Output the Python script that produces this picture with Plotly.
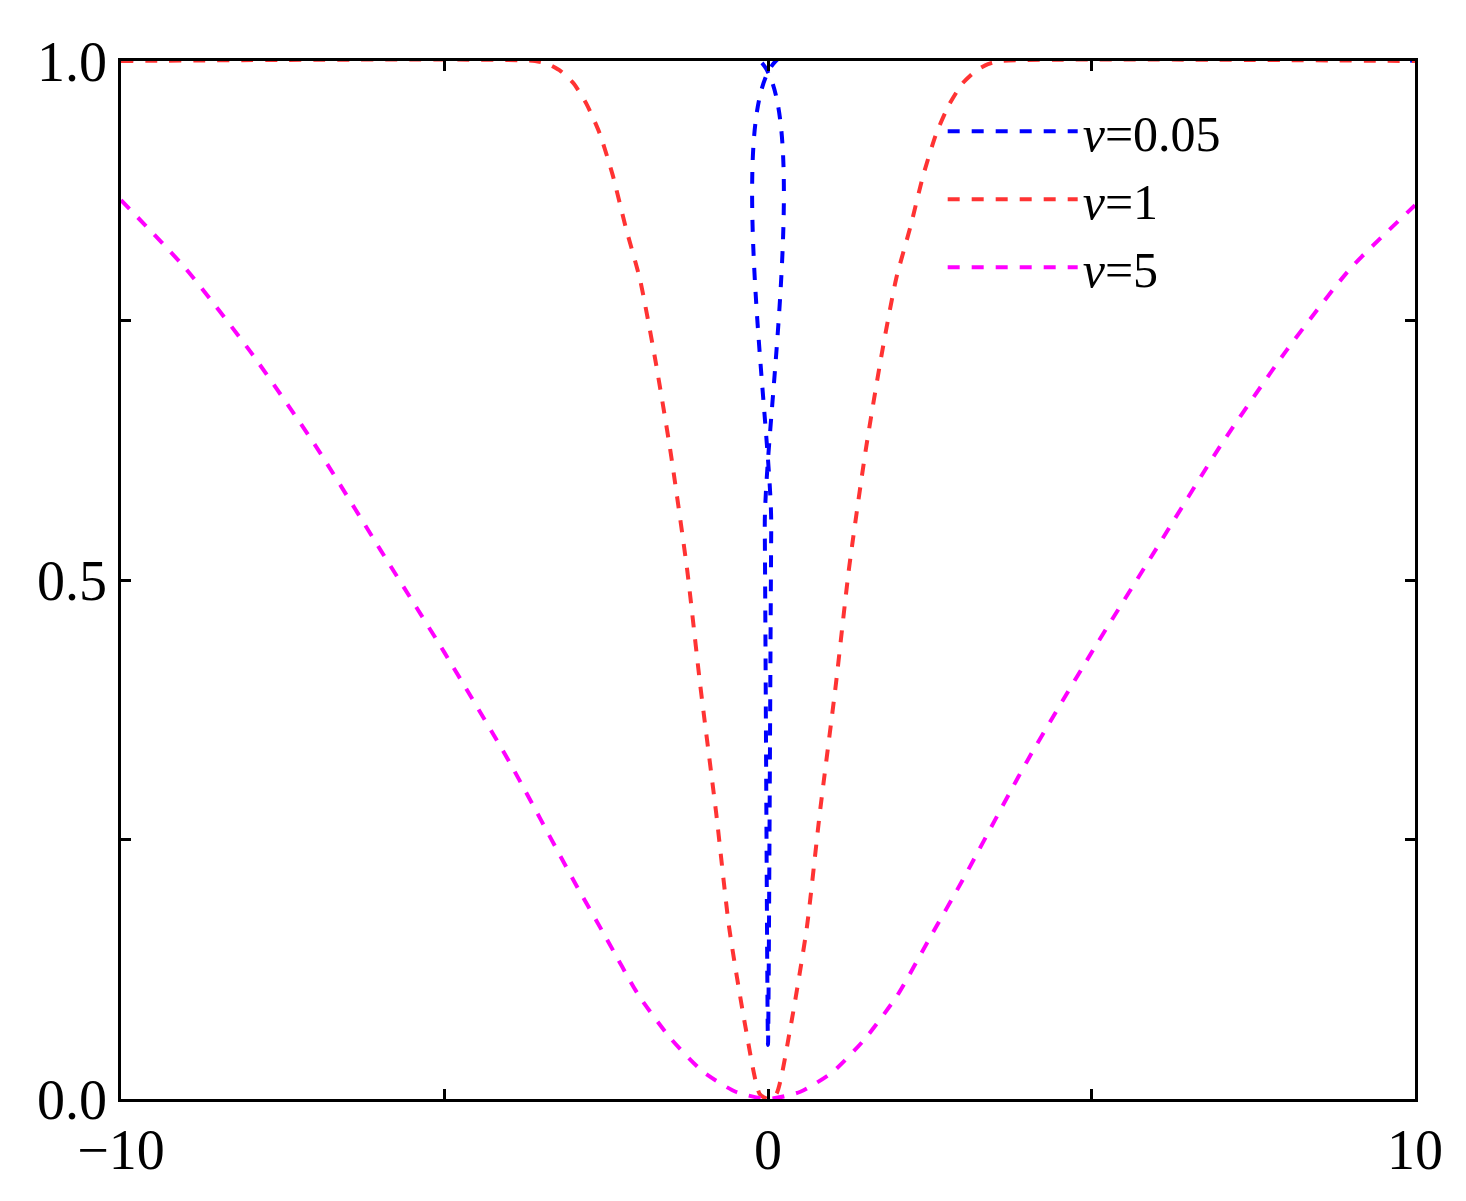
import plotly.graph_objects as go

x_v005 = [-10, -0.12, -0.05, 0.0, 0.05, 0.12, 10]
y_v005 = [1.0, 1.0, 0.55, 0.052, 0.55, 1.0, 1.0]

x_v1 = [-10, -3.6, -3.4, -3.2, -3.0, -2.8, -2.6, -2.4, -2.2, -1.98, -1.75, -1.51, -1.25, -1.05, -0.8, -0.6, -0.35, -0.13, 0.0,
        0.13, 0.35, 0.6, 0.8, 1.05, 1.25, 1.51, 1.75, 1.98, 2.2, 2.4, 2.6, 2.8, 3.0, 3.2, 3.4, 3.6, 10]
y_v1 = [1.0, 1.0, 0.997, 0.99, 0.978, 0.958, 0.93, 0.89, 0.84, 0.79, 0.715, 0.625, 0.51, 0.4, 0.275, 0.165, 0.07, 0.005, 0.0,
        0.005, 0.07, 0.165, 0.275, 0.4, 0.51, 0.625, 0.715, 0.79, 0.84, 0.89, 0.93, 0.958, 0.978, 0.99, 0.997, 1.0, 1.0]

x_v5 = [-10, -9, -8, -7, -6, -5, -4, -3, -2.5, -2, -1.5, -1, -0.5, 0.0, 0.5, 1, 1.5, 2, 2.5, 3, 4, 5, 6, 7, 8, 9, 10]
y_v5 = [0.866, 0.8, 0.72, 0.63, 0.53, 0.43, 0.325, 0.21, 0.155, 0.1, 0.058, 0.026, 0.007, 0.0,
        0.007, 0.026, 0.058, 0.1, 0.155, 0.21, 0.325, 0.43, 0.53, 0.63, 0.72, 0.8, 0.861]

names = ["<i>v</i>=0.05", "<i>v</i>=1", "<i>v</i>=5"]
colors = ["#0000ff", "#ff3333", "#ff00ff"]

fig = go.Figure()
for xs, ys, n, c in zip([x_v005, x_v1, x_v5], [y_v005, y_v1, y_v5], names, colors):
    fig.add_trace(go.Scatter(x=xs, y=ys, mode="lines", name=n, line=dict(color=c, width=4, dash="dash", shape="spline", smoothing=0.6)))

font = dict(family="Liberation Serif", size=56, color="black")
axis = dict(showline=True, linecolor="black", linewidth=2.5, mirror="ticks", ticks="inside",
            ticklen=10, tickwidth=2.5, tickcolor="black", showgrid=False, zeroline=False,
            tickfont=font)
fig.update_xaxes(range=[-10, 10], tickvals=[-10, 0, 10], ticktext=["\u221210", "0", "10"],
                 minor=dict(tickvals=[-5, 5], ticks="inside", ticklen=10, tickwidth=2.5, tickcolor="black"), **axis)
fig.update_yaxes(range=[0, 1], tickvals=[0, 0.5, 1], ticktext=["0.0", "0.5", "1.0"],
                 minor=dict(tickvals=[0.25, 0.75], ticks="inside", ticklen=10, tickwidth=2.5, tickcolor="black"), **axis)
fig.update_layout(width=1466, height=1201, plot_bgcolor="white", paper_bgcolor="white",
                  margin=dict(l=113, r=59, t=53, b=110),
                  legend=dict(x=0.635, y=0.97, xanchor="left", yanchor="top", bgcolor="rgba(0,0,0,0)",
                              font=dict(family="Liberation Serif", size=50, color="black"),
                              itemwidth=130, tracegroupgap=0))
fig.write_html("out.html")
